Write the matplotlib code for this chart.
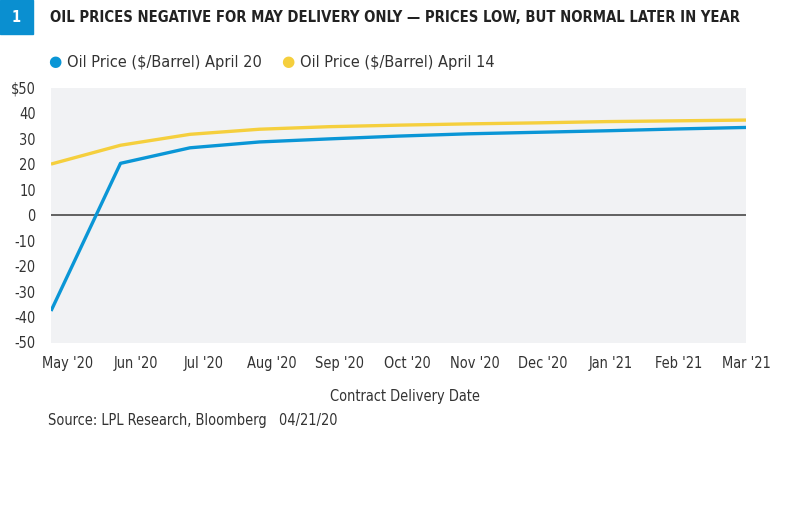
import matplotlib
matplotlib.use("Agg")
import matplotlib.pyplot as plt
from matplotlib.patches import Rectangle
from matplotlib import font_manager
from matplotlib.font_manager import FontProperties

months = ["May '20", "Jun '20", "Jul '20", "Aug '20", "Sep '20", "Oct '20",
          "Nov '20", "Dec '20", "Jan '21", "Feb '21", "Mar '21"]
price_apr20 = [-37.6, 20.4, 26.5, 28.8, 30.0, 31.1, 32.0, 32.6, 33.2, 33.9, 34.5]
price_apr14 = [20.1, 27.5, 31.8, 33.8, 34.8, 35.4, 35.9, 36.3, 36.8, 37.1, 37.4]
yticks = [50, 40, 30, 20, 10, 0, -10, -20, -30, -40, -50]
ytick_labels = ["$50", "40", "30", "20", "10", "0", "-10", "-20", "-30", "-40", "-50"]


def pick_font(bold):
    # look for a narrow / condensed face, else fall back to Roboto
    want = 700 if bold else 400
    best = None
    for f in font_manager.fontManager.ttflist:
        narrow = ("Narrow" in f.name or "Condensed" in f.name
                  or "Condensed" in f.fname or f.stretch in ("condensed", "semi-condensed"))
        if not narrow or f.style != "normal":
            continue
        w = f.weight if isinstance(f.weight, int) else (700 if "bold" in str(f.weight) else 400)
        if best is None or abs(w - want) < abs(best[0] - want):
            best = (w, f.fname)
    if best is not None and abs(best[0] - want) <= 100:
        return FontProperties(fname=best[1])
    return FontProperties(family="Roboto", weight="bold" if bold else "normal")


REG = pick_font(False)
BOLD = pick_font(True)

BLUE = "#0A96D6"
YELLOW = "#F5CF3D"
TXT = "#333333"

W, H = 788, 517
fig = plt.figure(figsize=(W / 100, H / 100), dpi=100)
renderer = fig.canvas.get_renderer()


def fx(px):
    return px / W


def fy(py):
    return 1 - py / H


def fit_size(text, fp, target_px, grow=1.12):
    # reference face is narrower, so let text run a bit wider to get its height
    t = fig.text(0, 0, text, fontproperties=fp, fontsize=10)
    w = t.get_window_extent(renderer).width
    t.remove()
    return 10 * target_px / w * grow


ax = fig.add_axes([fx(51), fy(342.5), fx(746) - fx(51), fy(88) - fy(342.5)])
ax.set_facecolor("#F1F2F4")
for s in ax.spines.values():
    s.set_visible(False)

x = list(range(len(months)))
ax.axhline(0, color="#555555", lw=1.3, zorder=1)
ax.plot(x, price_apr14, color=YELLOW, lw=2.4, zorder=2, solid_capstyle="butt")
ax.plot(x, price_apr20, color=BLUE, lw=2.4, zorder=3, solid_capstyle="butt")

ax.set_xlim(0, len(months) - 1)
ax.set_ylim(-50, 50)

tick_size = fit_size("May '20", REG, 46)
ax.set_yticks(yticks)
ax.set_yticklabels(ytick_labels, color=TXT)
# category labels sit evenly from just right of the first point to the last
step = (len(months) - 1 - 0.245) / (len(months) - 1)
ax.set_xticks([0.245 + i * step for i in x])
ax.set_xticklabels(months, color=TXT)
for lab in ax.get_xticklabels() + ax.get_yticklabels():
    lab.set_fontproperties(REG)
    lab.set_fontsize(tick_size)
ax.tick_params(axis="y", length=0, pad=11)
ax.tick_params(axis="x", length=0, pad=10)

fig.text(fx(405), fy(397), "Contract Delivery Date", fontproperties=REG,
         fontsize=fit_size("Contract Delivery Date", REG, 134), color=TXT,
         ha="center", va="center")

# title block
fig.patches.append(Rectangle((0, fy(34)), fx(33), fy(0) - fy(34),
                             transform=fig.transFigure, color="#0A8FD0", zorder=0))
title = "OIL PRICES NEGATIVE FOR MAY DELIVERY ONLY \u2014 PRICES LOW, BUT NORMAL LATER IN YEAR"
title_size = fit_size(title, BOLD, 647, grow=1.06)
fig.text(fx(16.5), fy(17), "1", color="white", fontproperties=BOLD, fontsize=title_size,
         ha="center", va="center")
fig.text(fx(50), fy(17), title, color="#222222", fontproperties=BOLD, fontsize=title_size,
         ha="left", va="center")

# legend
leg_size = fit_size("Oil Price ($/Barrel) April 20", REG, 175)
for cx, col, label in [(55, BLUE, "Oil Price ($/Barrel) April 20"),
                       (288, YELLOW, "Oil Price ($/Barrel) April 14")]:
    fig.text(fx(cx), fy(62), "\u25CF", color=col, fontsize=11, ha="center", va="center",
             family="DejaVu Sans")
    fig.text(fx(cx + 12), fy(62), label, color=TXT, fontproperties=REG, fontsize=leg_size,
             ha="left", va="center")

src = "Source: LPL Research, Bloomberg   04/21/20"
fig.text(fx(48), fy(421), src, color=TXT, fontproperties=REG,
         fontsize=fit_size(src, REG, 260), ha="left", va="center")

fig.savefig("out.png", dpi=100)
